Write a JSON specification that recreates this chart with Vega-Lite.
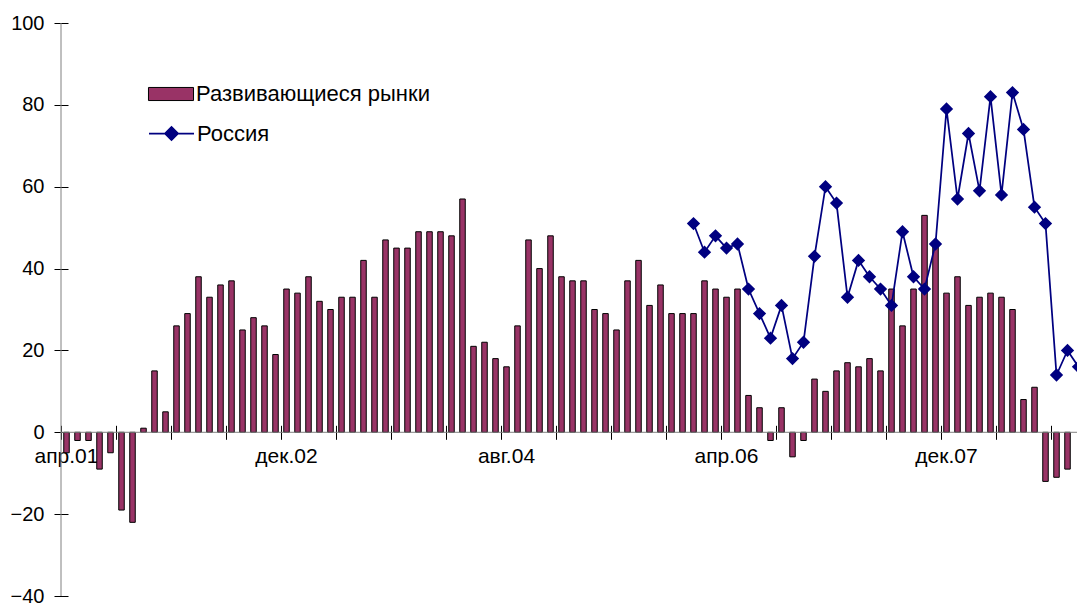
{
  "$schema": "https://vega.github.io/schema/vega-lite/v6.json",
  "width": 1023,
  "height": 573,
  "autosize": {"type": "none"},
  "padding": {"left": 61, "top": 23, "right": -7, "bottom": 7},
  "background": "white",
  "config": {
    "view": {"stroke": null},
    "font": "Liberation Sans",
    "axis": {"labelFont": "Liberation Sans", "labelFontSize": 20, "labelColor": "#000000", "grid": false}
  },
  "data": {
    "values": [
      {"m": "апр.01", "em": -5, "ru": null},
      {"m": "май.01", "em": -2, "ru": null},
      {"m": "июн.01", "em": -2, "ru": null},
      {"m": "июл.01", "em": -9, "ru": null},
      {"m": "авг.01", "em": -5, "ru": null},
      {"m": "сен.01", "em": -19, "ru": null},
      {"m": "окт.01", "em": -22, "ru": null},
      {"m": "ноя.01", "em": 1, "ru": null},
      {"m": "дек.01", "em": 15, "ru": null},
      {"m": "янв.02", "em": 5, "ru": null},
      {"m": "фев.02", "em": 26, "ru": null},
      {"m": "мар.02", "em": 29, "ru": null},
      {"m": "апр.02", "em": 38, "ru": null},
      {"m": "май.02", "em": 33, "ru": null},
      {"m": "июн.02", "em": 36, "ru": null},
      {"m": "июл.02", "em": 37, "ru": null},
      {"m": "авг.02", "em": 25, "ru": null},
      {"m": "сен.02", "em": 28, "ru": null},
      {"m": "окт.02", "em": 26, "ru": null},
      {"m": "ноя.02", "em": 19, "ru": null},
      {"m": "дек.02", "em": 35, "ru": null},
      {"m": "янв.03", "em": 34, "ru": null},
      {"m": "фев.03", "em": 38, "ru": null},
      {"m": "мар.03", "em": 32, "ru": null},
      {"m": "апр.03", "em": 30, "ru": null},
      {"m": "май.03", "em": 33, "ru": null},
      {"m": "июн.03", "em": 33, "ru": null},
      {"m": "июл.03", "em": 42, "ru": null},
      {"m": "авг.03", "em": 33, "ru": null},
      {"m": "сен.03", "em": 47, "ru": null},
      {"m": "окт.03", "em": 45, "ru": null},
      {"m": "ноя.03", "em": 45, "ru": null},
      {"m": "дек.03", "em": 49, "ru": null},
      {"m": "янв.04", "em": 49, "ru": null},
      {"m": "фев.04", "em": 49, "ru": null},
      {"m": "мар.04", "em": 48, "ru": null},
      {"m": "апр.04", "em": 57, "ru": null},
      {"m": "май.04", "em": 21, "ru": null},
      {"m": "июн.04", "em": 22, "ru": null},
      {"m": "июл.04", "em": 18, "ru": null},
      {"m": "авг.04", "em": 16, "ru": null},
      {"m": "сен.04", "em": 26, "ru": null},
      {"m": "окт.04", "em": 47, "ru": null},
      {"m": "ноя.04", "em": 40, "ru": null},
      {"m": "дек.04", "em": 48, "ru": null},
      {"m": "янв.05", "em": 38, "ru": null},
      {"m": "фев.05", "em": 37, "ru": null},
      {"m": "мар.05", "em": 37, "ru": null},
      {"m": "апр.05", "em": 30, "ru": null},
      {"m": "май.05", "em": 29, "ru": null},
      {"m": "июн.05", "em": 25, "ru": null},
      {"m": "июл.05", "em": 37, "ru": null},
      {"m": "авг.05", "em": 42, "ru": null},
      {"m": "сен.05", "em": 31, "ru": null},
      {"m": "окт.05", "em": 36, "ru": null},
      {"m": "ноя.05", "em": 29, "ru": null},
      {"m": "дек.05", "em": 29, "ru": null},
      {"m": "янв.06", "em": 29, "ru": 51},
      {"m": "фев.06", "em": 37, "ru": 44},
      {"m": "мар.06", "em": 35, "ru": 48},
      {"m": "апр.06", "em": 33, "ru": 45},
      {"m": "май.06", "em": 35, "ru": 46},
      {"m": "июн.06", "em": 9, "ru": 35},
      {"m": "июл.06", "em": 6, "ru": 29},
      {"m": "авг.06", "em": -2, "ru": 23},
      {"m": "сен.06", "em": 6, "ru": 31},
      {"m": "окт.06", "em": -6, "ru": 18},
      {"m": "ноя.06", "em": -2, "ru": 22},
      {"m": "дек.06", "em": 13, "ru": 43},
      {"m": "янв.07", "em": 10, "ru": 60},
      {"m": "фев.07", "em": 15, "ru": 56},
      {"m": "мар.07", "em": 17, "ru": 33},
      {"m": "апр.07", "em": 16, "ru": 42},
      {"m": "май.07", "em": 18, "ru": 38},
      {"m": "июн.07", "em": 15, "ru": 35},
      {"m": "июл.07", "em": 35, "ru": 31},
      {"m": "авг.07", "em": 26, "ru": 49},
      {"m": "сен.07", "em": 35, "ru": 38},
      {"m": "окт.07", "em": 53, "ru": 35},
      {"m": "ноя.07", "em": 46, "ru": 46},
      {"m": "дек.07", "em": 34, "ru": 79},
      {"m": "янв.08", "em": 38, "ru": 57},
      {"m": "фев.08", "em": 31, "ru": 73},
      {"m": "мар.08", "em": 33, "ru": 59},
      {"m": "апр.08", "em": 34, "ru": 82},
      {"m": "май.08", "em": 33, "ru": 58},
      {"m": "июн.08", "em": 30, "ru": 83},
      {"m": "июл.08", "em": 8, "ru": 74},
      {"m": "авг.08", "em": 11, "ru": 55},
      {"m": "сен.08", "em": -12, "ru": 51},
      {"m": "окт.08", "em": -11, "ru": 14},
      {"m": "ноя.08", "em": -9, "ru": 20},
      {"m": "дек.08", "em": null, "ru": 16}
    ]
  },
  "layer": [
    {
      "transform": [{"filter": "datum.m === 'апр.01'"}],
      "mark": {"type": "rule", "color": "#808080", "strokeWidth": 1},
      "encoding": {
        "x": {"field": "m", "type": "ordinal", "sort": null, "bandPosition": 0},
        "y": {"datum": -40, "type": "quantitative"},
        "y2": {"datum": 100}
      }
    },
    {
      "mark": {"type": "bar", "width": {"band": 0.5}, "stroke": "#000000", "strokeWidth": 1},
      "encoding": {
        "x": {
          "field": "m",
          "type": "ordinal",
          "sort": null,
          "scale": {"paddingInner": 0, "paddingOuter": 0},
          "axis": {
            "title": null,
            "values": ["апр.01", "сен.01", "фев.02", "июл.02", "дек.02", "май.03", "окт.03", "мар.04", "авг.04", "янв.05", "июн.05", "ноя.05", "апр.06", "сен.06", "фев.07", "июл.07", "дек.07", "май.08", "окт.08"],
            "labelExpr": "indexof(['апр.01', 'дек.02', 'авг.04', 'апр.06', 'дек.07'], datum.label) >= 0 ? datum.label : ''",
            "bandPosition": 0,
            "labelAlign": "center",
            "labelOffset": 0,
            "labelAngle": 0,
            "labelFontSize": 21,
            "labelPadding": 17,
            "offset": -170.7,
            "domain": false,
            "tickSize": 14,
            "tickColor": "#000000",
            "tickWidth": 1
          }
        },
        "y": {
          "field": "em",
          "type": "quantitative",
          "scale": {"domain": [-40, 100], "nice": false, "zero": false},
          "axis": {
            "title": null,
            "values": [-40, -20, 0, 20, 40, 60, 80, 100],
            "offset": -7,
            "domain": false,
            "tickSize": 14,
            "tickColor": "#000000",
            "tickWidth": 1,
            "labelPadding": 10
          }
        },
        "fill": {
          "datum": "Развивающиеся рынки",
          "scale": {"domain": ["Развивающиеся рынки"], "range": ["#993366"]},
          "legend": {
            "title": null,
            "orient": "none",
            "legendX": 90,
            "legendY": 51,
            "padding": 0,
            "symbolSize": 1482,
            "symbolType": "M-1.17,-0.34L1.17,-0.34L1.17,0.34L-1.17,0.34Z",
            "symbolFillColor": "#993366",
            "symbolStrokeColor": "#000000",
            "symbolStrokeWidth": 1,
            "symbolOpacity": 1,
            "labelFont": "Liberation Sans",
            "labelFontSize": 22,
            "labelColor": "#000000",
            "labelLimit": 0,
            "labelOffset": 5
          }
        }
      }
    },
    {
      "data": {"values": [{}]},
      "mark": {"type": "rule", "color": "#808080", "strokeWidth": 1},
      "encoding": {"y": {"datum": 0, "type": "quantitative"}}
    },
    {
      "mark": {
        "type": "line",
        "strokeWidth": 1.75,
        "point": {"filled": true, "shape": "diamond", "size": 110, "opacity": 1, "fill": "#000080"}
      },
      "encoding": {
        "x": {"field": "m", "type": "ordinal", "sort": null},
        "y": {"field": "ru", "type": "quantitative"},
        "stroke": {
          "datum": "Россия",
          "scale": {"domain": ["Россия"], "range": ["#000080"]},
          "legend": {
            "title": null,
            "orient": "none",
            "legendX": 90,
            "legendY": 90,
            "padding": 0,
            "symbolSize": 1482,
            "symbolType": "M-1.17,0L1.17,0M-0.34,0L0,-0.34L0.34,0L0,0.34Z",
            "symbolFillColor": "#000080",
            "symbolStrokeColor": "#000080",
            "symbolStrokeWidth": 1.75,
            "symbolOpacity": 1,
            "labelFont": "Liberation Sans",
            "labelFontSize": 22,
            "labelColor": "#000000",
            "labelLimit": 0,
            "labelOffset": 5
          }
        }
      }
    }
  ]
}
